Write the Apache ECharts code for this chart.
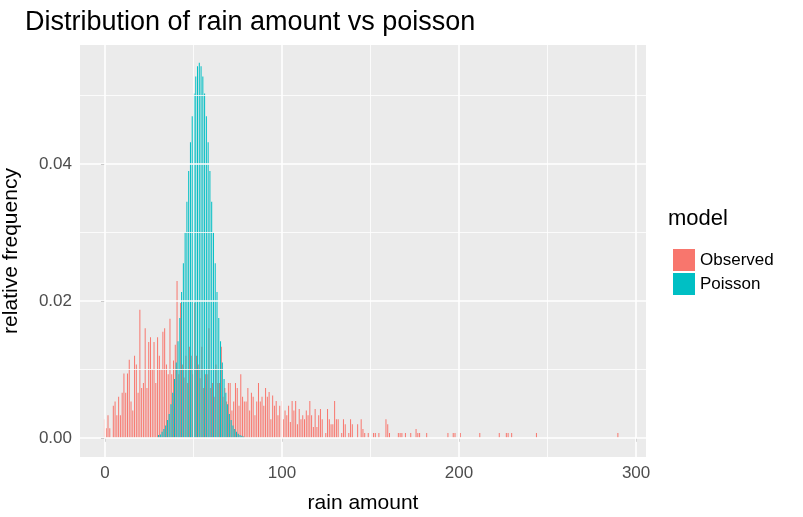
<!DOCTYPE html>
<html>
<head>
<meta charset="UTF-8">
<script src="https://cdn.jsdelivr.net/npm/echarts@6/dist/echarts.min.js"></script>
<style>
html, body { margin: 0; padding: 0; background: #fff; }
#chart { width: 803px; height: 517px; }
</style>
</head>
<body>
<div id="chart"></div>
<script>
// observed relative frequency: [rain amount, freq]
var observed = [
    [0,0.0027],[1,0.0014],[2,0.0033],[3,0.0014],[5,0.0047],[6,0.0053],[7,0.0033],[8,0.006],[9,0.0033],
    [10,0.0066],[11,0.0094],[12,0.0066],[13,0.0094],[14,0.0114],[15,0.0053],[16,0.004],[17,0.012],[18,0.0107],[19,0.0066],
    [20,0.0187],[21,0.0073],[22,0.008],[23,0.016],[24,0.0073],[25,0.014],[26,0.0147],[27,0.01],[28,0.014],[29,0.008],
    [30,0.0147],[31,0.012],[32,0.01],[33,0.0155],[34,0.016],[35,0.0107],[36,0.0093],[37,0.0174],[38,0.0093],[39,0.0113],
    [40,0.0136],[41,0.0229],[42,0.0093],[43,0.0197],[44,0.0107],[45,0.0088],[46,0.012],[47,0.008],[48,0.0133],[49,0.012],
    [50,0.0093],[51,0.0197],[52,0.012],[53,0.0107],[54,0.0087],[55,0.0133],[56,0.0073],[57,0.0093],[58,0.0093],[59,0.016],
    [60,0.0073],[61,0.008],[62,0.006],[63,0.0107],[64,0.008],[65,0.008],[66,0.0133],[67,0.006],[68,0.0073],[69,0.0053],
    [70,0.008],[71,0.008],[72,0.004],[73,0.0053],[74,0.008],[75,0.0073],[76,0.0047],[77,0.0093],[78,0.006],[79,0.0053],
    [80,0.0053],[81,0.0073],[82,0.004],[83,0.0066],[84,0.006],[85,0.0033],[86,0.0053],[87,0.008],[88,0.0053],[89,0.006],
    [90,0.0047],[91,0.0073],[92,0.006],[93,0.0067],[94,0.0027],[95,0.0062],[96,0.0047],[97,0.0054],[98,0.0033],[99,0.0047],
    [100,0.0054],[101,0.0027],[102,0.004],[103,0.0033],[104,0.0047],[105,0.0023],[106,0.0054],[107,0.004],[108,0.0054],[109,0.002],
    [110,0.0042],[111,0.0027],[112,0.0033],[113,0.0027],[114,0.004],[115,0.0033],[116,0.0054],[117,0.0033],[118,0.0016],[119,0.0042],
    [120,0.0016],[121,0.0033],[122,0.0042],[123,0.0027],[125,0.0007],[126,0.0042],[127,0.0027],[128,0.002],[129,0.002],
    [130,0.0054],[131,0.0027],[132,0.0027],[134,0.0007],[135,0.0027],[136,0.002],[138,0.0007],[139,0.0027],[140,0.002],
    [143,0.002],[145,0.0027],[146,0.0013],[147,0.0007],[149,0.0007],[152,0.0007],[153,0.0007],[155,0.0007],
    [159,0.0027],[160,0.002],[161,0.0007],[166,0.0007],[167,0.0007],[168,0.0007],[170,0.0007],[173,0.0007],
    [176,0.0013],[177,0.0007],[178,0.0007],[182,0.0007],[194,0.0007],[197,0.0007],[198,0.0007],[201,0.0007],
    [212,0.0007],[223,0.0007],[227,0.0007],[228,0.0007],[230,0.0007],[244,0.0007],[290,0.0007]
];
// poisson probability at the same amounts
var poisson = [
    [30,0.0004],[31,0.0005],[32,0.0009],[33,0.0013],[34,0.0018],[35,0.0026],[36,0.0035],[37,0.0049],[38,0.0066],[39,0.0086],
    [40,0.011],[41,0.0141],[42,0.0175],[43,0.0213],[44,0.0255],[45,0.030],[46,0.0345],[47,0.039],[48,0.0432],[49,0.047],
    [50,0.0503],[51,0.0528],[52,0.0543],[53,0.0548],[54,0.0543],[55,0.0528],[56,0.0503],[57,0.047],[58,0.0432],[59,0.039],
    [60,0.0345],[61,0.030],[62,0.0255],[63,0.0213],[64,0.0175],[65,0.0141],[66,0.011],[67,0.0086],[68,0.0066],[69,0.0049],
    [70,0.0035],[71,0.0026],[72,0.0018],[73,0.0013],[74,0.0009],[75,0.0006],[76,0.0004],[77,0.0003],[78,0.0002]
];
var xMajor = [0, 100, 200, 300];
var xMinor = [50, 150, 250];
var yMajor = [0, 0.02, 0.04];
var yMinor = [0.01, 0.03, 0.05];

var gridLines = [];
xMajor.forEach(function (v) { gridLines.push({ xAxis: v, lineStyle: { width: 1.6 } }); });
xMinor.forEach(function (v) { gridLines.push({ xAxis: v, lineStyle: { width: 0.8 } }); });
yMajor.forEach(function (v) { gridLines.push({ yAxis: v, lineStyle: { width: 1.6 } }); });
yMinor.forEach(function (v) { gridLines.push({ yAxis: v, lineStyle: { width: 0.8 } }); });

var myChart = echarts.init(document.getElementById('chart'));
var option = {
    animation: false,
    textStyle: { fontFamily: 'Liberation Sans, Arial, sans-serif' },
    title: {
        text: 'Distribution of rain amount vs poisson',
        left: 20, top: 4,
        textStyle: { fontSize: 27, fontWeight: 'normal', color: '#000' }
    },
    grid: { left: 80, right: 157, top: 45, bottom: 60, backgroundColor: '#EBEBEB', show: true, borderWidth: 0,
        containLabel: false, outerBoundsMode: 'none' },
    legend: {
        orient: 'vertical', left: 668, top: 244, itemWidth: 22, itemHeight: 22, itemGap: 2,
        icon: 'rect',
        textStyle: { fontSize: 17, color: '#000' },
        data: ['Observed', 'Poisson']
    },
    graphic: [{ type: 'text', left: 668, top: 208, style: { text: 'model', fontSize: 22, fill: '#000' } }],
    xAxis: {
        type: 'value', min: -14.1, max: 305.6,
        name: 'rain amount', nameLocation: 'middle', nameGap: 36,
        nameTextStyle: { fontSize: 21, color: '#000' },
        axisLine: { show: false },
        axisTick: { show: true, customValues: xMajor, length: 4, lineStyle: { color: '#333' } },
        axisLabel: { customValues: xMajor, fontSize: 17, color: '#4D4D4D', margin: 8 },
        splitLine: { show: false }
    },
    yAxis: {
        type: 'value', min: -0.0028, max: 0.0574,
        name: 'relative frequency', nameLocation: 'middle', nameGap: 58,
        nameTextStyle: { fontSize: 21, color: '#000' },
        axisLine: { show: false },
        axisTick: { show: true, customValues: yMajor, length: 4, lineStyle: { color: '#333' } },
        axisLabel: { customValues: yMajor, fontSize: 17, color: '#4D4D4D', margin: 8,
            formatter: function (v) { return v.toFixed(2); } },
        splitLine: { show: false }
    },
    series: [
        {
            type: 'scatter', data: [], z: 0, silent: true,
            markLine: { silent: true, symbol: 'none', label: { show: false },
                lineStyle: { color: '#fff', type: 'solid' }, data: gridLines }
        },
        { name: 'Observed', type: 'bar', data: observed, barWidth: 1, barGap: '0%', z: 3,
          itemStyle: { color: '#F8766D' } },
        { name: 'Poisson', type: 'bar', data: poisson, barWidth: 1, barGap: '0%', z: 3,
          itemStyle: { color: '#00BFC4' } }
    ]
};
myChart.setOption(option);
</script>
</body>
</html>
